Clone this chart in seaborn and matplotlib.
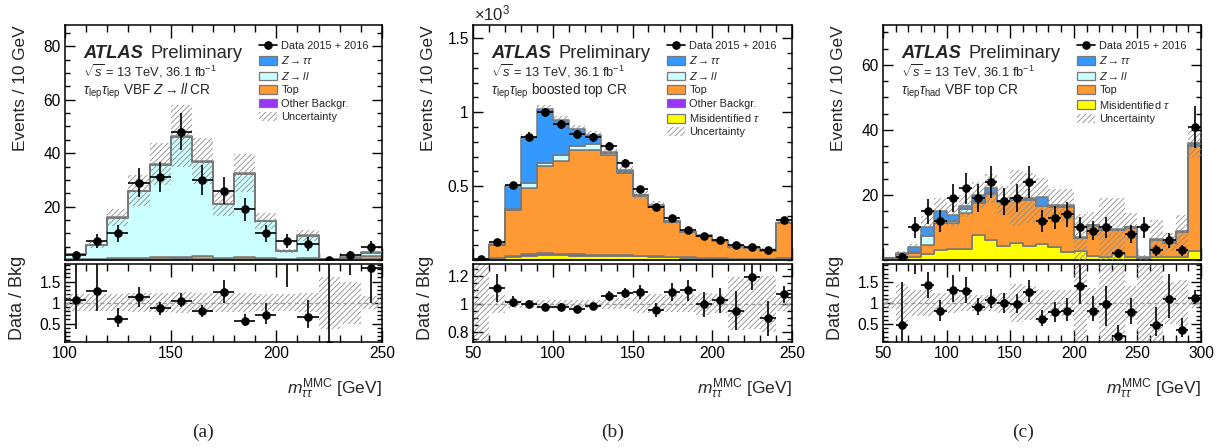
import numpy as np
import pandas as pd
import matplotlib
matplotlib.use("Agg")
import matplotlib.pyplot as plt
from matplotlib.patches import Patch
from matplotlib.lines import Line2D
from matplotlib.ticker import MultipleLocator, FuncFormatter, FixedLocator
import seaborn as sns

# ------------------------------------------------------------------ data
# (a) tau_lep tau_lep VBF Z->ll CR, bins 100..250 GeV (10 GeV)
edges_a = [100, 110, 120, 130, 140, 150, 160, 170, 180, 190, 200, 210, 220, 230, 240, 250]
ztt_a = [0.1, 0.1, 0.2, 0.3, 0.3, 0.3, 0.3, 0.2, 0.3, 0.1, 0.1, 0.1, 0.0, 0.1, 0.2]
zll_a = [1.9, 5.0, 15.1, 24.8, 34.7, 45.0, 35.2, 19.9, 30.9, 13.8, 3.0, 8.5, 0.3, 0.6, 1.3]
top_a = [0.1, 0.2, 0.3, 0.4, 0.5, 0.6, 1.0, 0.5, 0.9, 0.4, 0.2, 0.3, 0.0, 0.2, 1.0]
other_a = [0.2, 0.3, 0.4, 0.5, 0.5, 0.6, 0.5, 0.4, 0.4, 0.3, 0.2, 0.3, 0.0, 0.1, 0.5]
data_a = [2, 7, 10, 29, 31, 48, 30, 26, 19, 10, 7, 6, 0, 2, 5]
unc_a = [0.2, 0.2, 0.2, 0.22, 0.22, 0.25, 0.23, 0.22, 0.22, 0.2, 0.2, 0.22, 0.62, 0.5, 0.15]
ratio_a = [1.05, 1.28, 0.61, 1.125, 0.86, 1.04, 0.79, 1.25, 0.57, 0.70, 2.10, 0.66, 0.0, 2.5, 1.83]
ratio_lo_a = [0.69, 0.49, 0.19, 0.22, 0.15, 0.15, 0.14, 0.27, 0.13, 0.22, 0.74, 0.26, 0.0, 0.85, 0.83]
ratio_hi_a = [0.9, 0.65, 0.26, 0.24, 0.16, 0.18, 0.16, 0.28, 0.16, 0.30, 0.9, 0.40, 2.0, 1.0, 0.6]

# (b) tau_lep tau_lep boosted top CR, bins 50..250 GeV, values in 10^3 events
edges_b = [50, 60, 70, 80, 90, 100, 110, 120, 130, 140, 150, 160, 170, 180, 190, 200, 210, 220, 230, 240, 250]
ztt_b = [0.001, 0.007, 0.155, 0.31, 0.366, 0.237, 0.113, 0.063, 0.007, 0.014, 0.005, 0.007, 0.001, 0.0, 0.004, 0.001, 0.003, 0.001, 0.008, 0.003]
zll_b = [0.0, 0.003, 0.008, 0.03, 0.016, 0.036, 0.03, 0.04, 0.016, 0.01, 0.008, 0.004, 0.003, 0.002, 0.002, 0.001, 0.002, 0.001, 0.002, 0.003]
top_b = [0.003, 0.087, 0.309, 0.448, 0.589, 0.629, 0.706, 0.707, 0.672, 0.553, 0.401, 0.336, 0.238, 0.173, 0.146, 0.118, 0.080, 0.069, 0.050, 0.231]
other_b = [0.0, 0.003, 0.008, 0.012, 0.014, 0.01, 0.008, 0.007, 0.006, 0.005, 0.004, 0.004, 0.003, 0.003, 0.002, 0.002, 0.002, 0.002, 0.002, 0.004]
fake_b = [0.0, 0.01, 0.02, 0.03, 0.035, 0.033, 0.03, 0.03, 0.03, 0.028, 0.025, 0.02, 0.017, 0.014, 0.012, 0.01, 0.008, 0.007, 0.006, 0.012]
data_b = [0.01, 0.122, 0.505, 0.835, 1.0, 0.92, 0.85, 0.83, 0.77, 0.655, 0.48, 0.36, 0.285, 0.205, 0.165, 0.135, 0.1, 0.085, 0.065, 0.27]
unc_b = [0.5, 0.065, 0.03, 0.03, 0.03, 0.03, 0.03, 0.03, 0.035, 0.04, 0.07, 0.07, 0.06, 0.06, 0.08, 0.07, 0.19, 0.18, 0.2, 0.05]
ratio_b = [np.nan, 1.11, 1.015, 1.0, 0.977, 0.977, 0.96, 0.98, 1.053, 1.075, 1.083, 0.955, 1.083, 1.096, 0.995, 1.025, 0.95, 1.195, 0.895, 1.068]
ratio_err_b = [0, 0.10, 0.04, 0.025, 0.025, 0.025, 0.025, 0.025, 0.035, 0.037, 0.05, 0.05, 0.063, 0.075, 0.09, 0.09, 0.14, 0.10, 0.125, 0.06]

# (c) tau_lep tau_had VBF top CR, bins 50..300 GeV
edges_c = [50, 60, 70, 80, 90, 100, 110, 120, 130, 140, 150, 160, 170, 180, 190, 200, 210, 220, 230, 240, 250, 260, 270, 280, 290, 300]
ztt_c = [0, 0.2, 1.5, 2.8, 3.6, 1.8, 1.0, 2.4, 1.4, 0.3, 0.3, 0.3, 2.6, 0.3, 0.3, 0.2, 0.2, 0.2, 0.2, 0.3, 0.1, 0.2, 0.2, 0.3, 0.5]
zll_c = [0, 0.1, 0.2, 2.8, 0.3, 0.8, 1.2, 0.2, 0.3, 0.2, 0.2, 0.2, 0.2, 0.2, 0.2, 0.1, 0.1, 0.1, 0.1, 0.1, 0.0, 0.1, 0.1, 0.1, 0.3]
top_c = [0.3, 1.2, 1.2, 2.9, 8.2, 7.9, 11.1, 9.8, 14.1, 13.4, 13.5, 14.2, 11.6, 12.3, 14.0, 3.8, 9.3, 8.2, 7.4, 8.9, 0.2, 5.4, 4.4, 7.6, 32.3]
fake_c = [0.3, 0.5, 1.0, 1.8, 3.1, 3.4, 3.4, 7.7, 6.2, 4.4, 5.1, 4.4, 4.9, 4.1, 2.4, 2.9, 1.3, 1.0, 1.8, 1.0, 0.5, 0.8, 0.8, 1.0, 2.9]
data_c = [np.nan, 1, 10, 15, 12, 19, 22, 19, 24, 18, 19, 24, 12, 13, 14, 10, 9, 10, 2, 8, 10, 3, 6, 3, 41]
unc_c = [0.13, 0.45, 0.3, 0.3, 0.25, 0.25, 0.2, 0.2, 0.2, 0.25, 0.45, 0.4, 0.3, 0.3, 0.3, 1.0, 0.35, 1.0, 1.0, 0.4, 1.0, 0.9, 0.5, 0.55, 0.13]
ratio_c = [np.nan, 0.48, 2.4, 1.43, 0.8, 1.32, 1.28, 0.91, 1.075, 1.0, 0.97, 1.27, 0.61, 0.78, 0.82, 1.4, 0.82, 0.97, 0.22, 0.78, 10.0, 0.48, 1.1, 0.35, 1.13]
ratio_lo_c = [0, 0.38, 0.7, 0.3, 0.23, 0.3, 0.29, 0.19, 0.2, 0.24, 0.21, 0.25, 0.16, 0.23, 0.25, 0.43, 0.25, 0.51, 0.12, 0.28, 7.0, 0.26, 0.45, 0.17, 0.14]
ratio_hi_c = [0, 1.02, 1.0, 0.3, 0.26, 0.34, 0.34, 0.22, 0.25, 0.25, 0.25, 0.27, 0.23, 0.24, 0.31, 0.6, 0.35, 0.43, 0.26, 0.35, 3.0, 0.43, 0.6, 0.3, 0.19]

labels = {
    "ztt": r"$Z\rightarrow\tau\tau$",
    "zll": r"$Z\rightarrow ll$",
    "top": "Top",
    "other": "Other Backgr.",
    "fake": r"Misidentified $\tau$",
}
colors = {
    "ztt": "#3399ff",
    "zll": "#ccffff",
    "top": "#ff9933",
    "other": "#9933ff",
    "fake": "#ffff00",
}
EDGE = "#777777"
HATCH = "#8c8c8c"

# ------------------------------------------------------------------ style
sns.set_theme(style="ticks")
plt.rcParams.update({
    "font.family": ["Liberation Sans", "DejaVu Sans"],
    "mathtext.fontset": "custom",
    "mathtext.rm": "Liberation Sans",
    "mathtext.it": "Liberation Sans:italic",
    "mathtext.bf": "Liberation Sans:bold",
    "axes.linewidth": 1.1,
    "axes.edgecolor": "black",
    "axes.facecolor": "white",
    "axes.grid": False,
    "hatch.linewidth": 0.6,
    "xtick.color": "black",
    "ytick.color": "black",
    "xtick.labelsize": 11.2,
    "ytick.labelsize": 11.2,
})

W, H = 1231, 448
fig = plt.figure(figsize=(W / 100, H / 100), dpi=100)


def rect(l, r, t, b):
    return [l / W, 1 - b / H, (r - l) / W, (b - t) / H]


fmt = FuncFormatter(lambda v, p: f"{v:g}")


def style_axis(ax, xmin, xmaj, ymaj, ymin):
    ax.xaxis.set_major_locator(MultipleLocator(xmaj))
    ax.xaxis.set_minor_locator(MultipleLocator(xmin))
    ax.yaxis.set_major_locator(FixedLocator(ymaj))
    ax.yaxis.set_minor_locator(MultipleLocator(ymin))
    ax.yaxis.set_major_formatter(fmt)
    ax.xaxis.set_major_formatter(fmt)
    ax.tick_params(which="both", direction="in", top=True, right=True,
                   bottom=True, left=True, width=1.0, color="black")
    ax.tick_params(axis="x", which="major", length=9)
    ax.tick_params(axis="x", which="minor", length=5)
    ax.tick_params(axis="y", which="major", length=7)
    ax.tick_params(axis="y", which="minor", length=3.5)
    ax.tick_params(axis="both", which="major", pad=3)
    for s in ax.spines.values():
        s.set_visible(True)
        s.set_color("black")
        s.set_linewidth(1.1)


def panel(left, right, edges, comps, order, data, scale, unc, ratio, rlo, rhi,
          ylim, yticks, yminor, rylim, ryticks, ryminor, lines, legend_order, caption, cap_x):
    edges_arr = np.asarray(edges, float)
    centers = 0.5 * (edges_arr[:-1] + edges_arr[1:])
    half = 0.5 * np.diff(edges_arr)
    ax = fig.add_axes(rect(left, right, 25, 260))
    axr = fig.add_axes(rect(left, right, 264, 342))

    rows = []
    for name in order:
        for c, v in zip(centers, comps[name]):
            rows.append((c, v, name))
    df = pd.DataFrame(rows, columns=["x", "w", "proc"])
    # seaborn stacks the first hue level on top
    sns.histplot(data=df, x="x", weights="w", hue="proc", hue_order=order,
                 palette=colors, multiple="stack", bins=list(edges), element="step",
                 fill=True, alpha=1, edgecolor=EDGE, linewidth=1.1,
                 legend=False, ax=ax)

    tot = np.sum([np.asarray(comps[n], float) for n in order], axis=0)
    unc = np.asarray(unc, float)
    ax.stairs(tot * (1 + unc), edges_arr, baseline=np.clip(tot * (1 - unc), 0, None), fill=True,
              facecolor="none", edgecolor=HATCH, hatch="//////", linewidth=0, zorder=3)
    data = np.asarray(data, float)
    ax.errorbar(centers, data, xerr=half, yerr=np.sqrt(data * scale) / scale,
                fmt="o", color="black", ms=5.2, lw=1.2, capsize=0, zorder=5)

    ax.set_xlim(edges_arr[0], edges_arr[-1])
    ax.set_ylim(*ylim)
    style_axis(ax, 10, 50, yticks, yminor)
    ax.tick_params(labelbottom=False)
    ax.set_xlabel("")
    ax.set_ylabel("Events / 10 GeV", loc="top", fontsize=12.4)
    ax.yaxis.set_label_coords(-37 / (right - left), 1.0)

    # ratio panel
    axr.stairs(1 + unc, edges_arr, baseline=1 - unc, fill=True, facecolor="none",
               edgecolor=HATCH, hatch="//////", linewidth=0, zorder=1)
    axr.axhline(1, color="#9a9a9a", ls=(0, (3, 2)), lw=1.0, zorder=2)
    axr.errorbar(centers, ratio, xerr=half, yerr=[rlo, rhi], fmt="o", color="black",
                 ms=5.2, lw=1.2, capsize=0, zorder=5)
    axr.set_xlim(edges_arr[0], edges_arr[-1])
    axr.set_ylim(*rylim)
    style_axis(axr, 10, 50, ryticks, ryminor)
    axr.set_ylabel("Data / Bkg", fontsize=13)
    axr.yaxis.set_label_coords(-39 / (right - left), 0.56)

    fig.text(right / W, 1 - 389 / H, r"$m^{\mathrm{MMC}}_{\tau\tau}$ [GeV]",
             ha="right", va="center", fontsize=12.5)
    fig.text(cap_x / W, 1 - 432 / H, caption, ha="center", va="center",
             fontsize=14, family=["Liberation Serif", "DejaVu Serif"])

    # ATLAS label
    x0 = left + 18
    fig.text(x0 / W, 1 - 58 / H, "ATLAS", fontsize=13.2, fontweight="bold",
             fontstyle="italic", va="baseline")
    fig.text((x0 + 68) / W, 1 - 58 / H, "Preliminary", fontsize=13.2, va="baseline")
    fig.text(x0 / W, 1 - 77 / H, r"$\sqrt{s}$ = 13 TeV, 36.1 fb$^{-1}$", fontsize=9.3, va="baseline")
    fig.text(x0 / W, 1 - 95 / H, lines, fontsize=9.8, va="baseline")

    handles = [Line2D([], [], color="black", marker="o", ms=5.2, lw=1.2)]
    labs = ["Data 2015 + 2016"]
    for n in legend_order:
        handles.append(Patch(facecolor=colors[n], edgecolor=EDGE, lw=0.9))
        labs.append(labels[n])
    handles.append(Patch(facecolor="none", edgecolor=HATCH, hatch="//////", lw=0))
    labs.append("Uncertainty")
    ax.legend(handles, labs, loc="upper left",
              bbox_to_anchor=((left + 194) / W, 1 - 41 / H), bbox_transform=fig.transFigure,
              frameon=False, fontsize=7.9, handlelength=1.6, handleheight=0.85,
              handletextpad=0.45, labelspacing=0.3, borderpad=0, borderaxespad=0)
    return ax, axr


comps_a = {"ztt": ztt_a, "zll": zll_a, "top": top_a, "other": other_a}
panel(65, 382, edges_a, comps_a, ["ztt", "zll", "top", "other"], data_a, 1.0, unc_a,
      ratio_a, ratio_lo_a, ratio_hi_a, (0, 88), [20, 40, 60, 80], 5,
      (0.06, 1.92), [0.5, 1, 1.5], 0.1,
      r"$\tau_{\mathrm{lep}}\tau_{\mathrm{lep}}$ VBF $Z\rightarrow ll$ CR",
      ["ztt", "zll", "top", "other"], "(a)", 203)

comps_b = {"ztt": ztt_b, "zll": zll_b, "top": top_b, "other": other_b, "fake": fake_b}
panel(473, 792, edges_b, comps_b, ["ztt", "zll", "top", "other", "fake"], data_b, 1000.0, unc_b,
      ratio_b, ratio_err_b, ratio_err_b, (0, 1.59), [0.5, 1, 1.5], 0.1,
      (0.725, 1.285), [0.8, 1, 1.2], 0.05,
      r"$\tau_{\mathrm{lep}}\tau_{\mathrm{lep}}$ boosted top CR",
      ["ztt", "zll", "top", "other", "fake"], "(b)", 613)
fig.text(474 / W, 1 - 20 / H, r"$\times$10$^{3}$", fontsize=12, va="baseline")

comps_c = {"ztt": ztt_c, "zll": zll_c, "top": top_c, "fake": fake_c}
panel(883, 1201, edges_c, comps_c, ["ztt", "zll", "top", "fake"], data_c, 1.0, unc_c,
      ratio_c, ratio_lo_c, ratio_hi_c, (0, 72.3), [20, 40, 60], 5,
      (0.07, 1.93), [0.5, 1, 1.5], 0.1,
      r"$\tau_{\mathrm{lep}}\tau_{\mathrm{had}}$ VBF top CR",
      ["ztt", "zll", "top", "fake"], "(c)", 1023)

fig.savefig("out.png", dpi=100)
